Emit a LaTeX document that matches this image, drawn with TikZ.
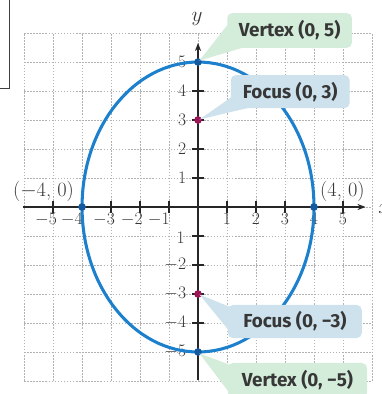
\documentclass[tikz,border=0pt]{standalone}
\usepackage{fontspec}
\newfontfamily\callfont{Fira Sans}
\usetikzlibrary{arrows.meta,calc}
\definecolor{ellblue}{RGB}{28,128,205}
\definecolor{vdot}{RGB}{20,90,160}
\definecolor{focmag}{RGB}{155,20,85}
\definecolor{vgreen}{RGB}{212,236,218}
\definecolor{fblue}{RGB}{205,226,237}
\definecolor{txtgray}{RGB}{55,55,55}
\begin{document}
\begin{tikzpicture}[
  gridline/.style={black!30, dash pattern=on 1.5pt off 1.5pt, line width=0.5pt},
  axisline/.style={line width=1.3pt, black!85, -{Stealth[length=8pt,width=6pt]}},
  tickmark/.style={line width=1.2pt, black!85},
  ticklab/.style={font=\fontsize{19}{19}\selectfont, text=txtgray, inner sep=0pt},
  coordlab/.style={font=\fontsize{20}{20}\selectfont, text=txtgray, inner sep=0pt},
  callout/.style={rounded corners=5pt, font=\callfont\bfseries\fontsize{18.5}{18.5}\selectfont, text=txtgray, inner sep=0pt},
  pt/.style={circle, inner sep=0pt, minimum size=7.5pt},
]
\useasboundingbox (-6.83,-6.45) rectangle (6.34,7.14);
% corner of a frame
\draw[line width=0.8pt, black!75] (-6.52,7.3) -- (-6.52,4.10) -- (-6.95,4.10);
% grid
\foreach \i in {-6,...,6} {
  \draw[gridline] (\i,-6) -- (\i,6);
  \draw[gridline] (-6,\i) -- (6,\i);
}
% axes
\coordinate (xa) at (-6.03,0);
\coordinate (xb) at (5.78,0);
\coordinate (ya) at (0,-5.97);
\coordinate (yb) at (0,5.66);
\draw[axisline] (xa) -- (xb);
\draw[axisline] (ya) -- (yb);
\node[font=\fontsize{20}{20}\selectfont, text=txtgray] (xlab) at (6.42,-0.05) {$x$};
\node[font=\fontsize{20}{20}\selectfont, text=txtgray] (ylab) at (-0.03,6.5) {$y$};
% ticks
\foreach \i in {-5,...,-1,1,2,...,5} {
  \draw[tickmark] (\i,0.2) -- (\i,-0.2);
  \draw[tickmark] (-0.2,\i) -- (0.2,\i);
}
% x tick labels
\foreach \i in {1,...,5} { \node[ticklab, anchor=base] at (\i,-0.62) {$\i$}; }
\foreach \i/\s in {-5/0.14,-4/0.03,-3/0.14,-2/0.1,-1/0.03} {
  \node[ticklab, anchor=base east] at (\i+\s,-0.62) {$\i$};
}
% y tick labels
\foreach \i in {1,...,5,-2,-3,-4,-5} { \node[ticklab, anchor=east] at (-0.4,\i) {$\i$}; }
\node[ticklab, anchor=east] at (-0.45,-1.07) {$1$};
% ellipse
\draw[ellblue, line width=3pt] (0,0) ellipse [x radius=4, y radius=5];
% points
\node[pt, fill=vdot] (V1) at (0,5) {};
\node[pt, fill=vdot] (V2) at (0,-5) {};
\node[pt, fill=vdot] (W1) at (-4,0) {};
\node[pt, fill=vdot] (W2) at (4,0) {};
\node[pt, fill=focmag] (F1) at (0,3) {};
\node[pt, fill=focmag] (F2) at (0,-3) {};
\node[coordlab] (lW1) at (-5.33,0.55) {(\(-\)4, 0)};
\node[coordlab] (lW2) at (4.98,0.55) {(4, 0)};
% callout boxes
\node[callout, fill=vgreen, minimum width=4.3cm, minimum height=1.2cm] (cV1) at (3.16,6.09) {Vertex (0, 5)};
\node[callout, fill=fblue, minimum width=4.1cm, minimum height=1.14cm] (cF1) at (3.18,3.98) {Focus (0, 3)};
\node[callout, fill=fblue, minimum width=4.62cm, minimum height=1.14cm] (cF2) at (3.34,-3.95) {Focus (0, −3)};
\node[callout, fill=vgreen, minimum width=4.8cm, minimum height=1.2cm] (cV2) at (3.43,-5.98) {Vertex (0, −5)};
% wedges
\fill[vgreen] ($(V1.center)+(0.05,0.05)$) -- ($(cV1.west)+(0.1,0.3)$) -- ($(cV1.south west)+(0.7,0.06)$) -- cycle;
\fill[fblue] ($(F1.center)+(0.05,0.02)$) -- ($(cF1.south west)+(0.12,0.45)$) -- ($(cF1.south west)+(0.8,0.06)$) -- cycle;
\fill[fblue] ($(F2.center)+(0.05,-0.02)$) -- ($(cF2.north west)+(0.07,-0.07)$) -- ($(cF2.north west)+(0.07,-0.92)$) -- cycle;
\fill[vgreen] ($(V2.center)+(0.05,-0.05)$) -- ($(cV2.north west)+(0.07,-0.07)$) -- ($(cV2.north west)+(0.07,-1.05)$) -- cycle;
\end{tikzpicture}
\end{document}
